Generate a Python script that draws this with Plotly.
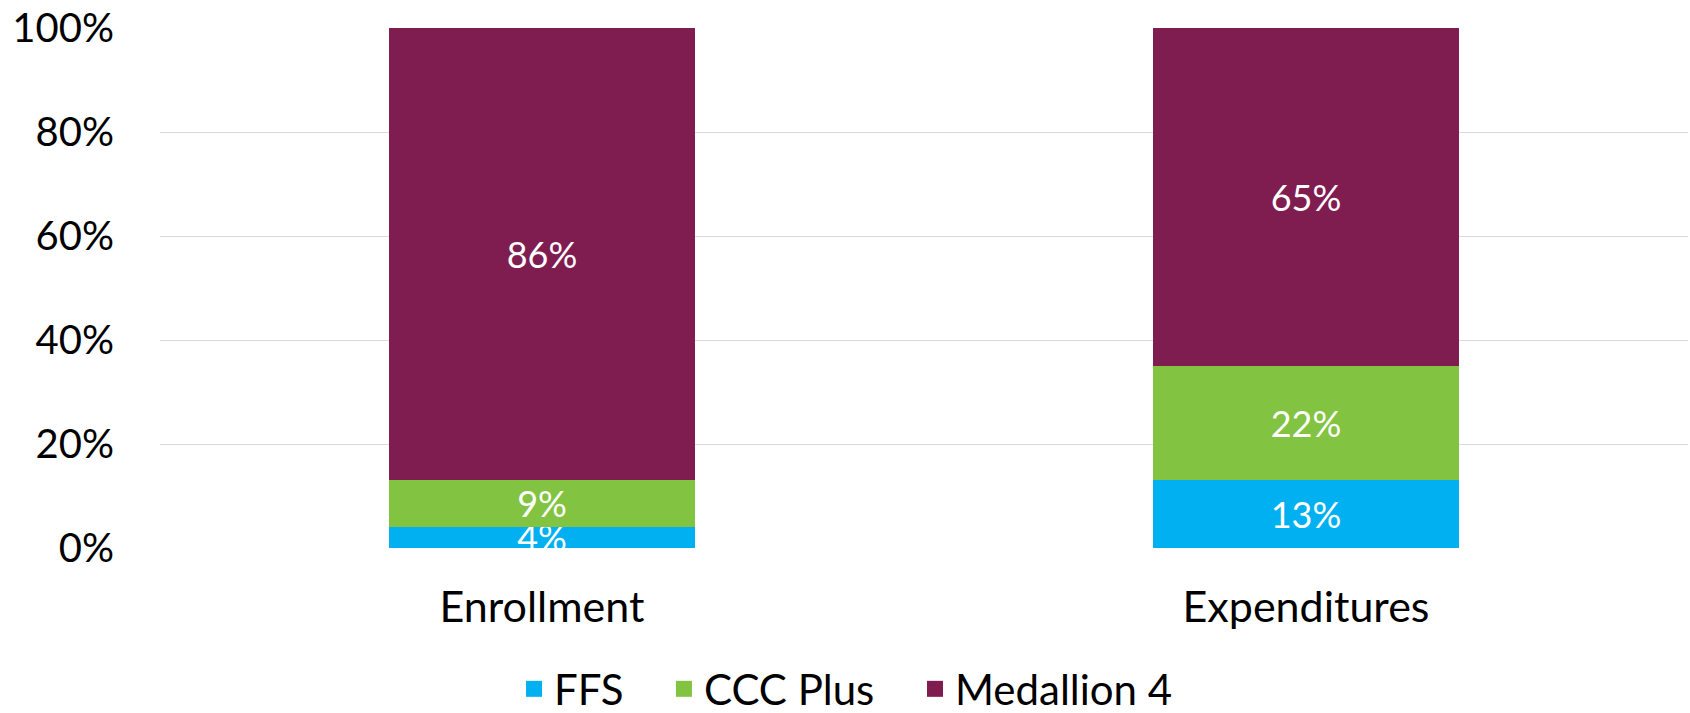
import plotly.graph_objects as go

categories = ["Enrollment", "Expenditures"]
series_names = ["FFS", "CCC Plus", "Medallion 4"]
ffs = [4, 13]
ccc_plus = [9, 22]
medallion4 = [86, 65]
y_ticks = [0, 20, 40, 60, 80, 100]
y_tick_labels = ["0%", "20%", "40%", "60%", "80%", "100%"]

colors = ["#00B0F0", "#82C341", "#7F1C50"]
FONT = "Lato, Open Sans, sans-serif"

# legend placement (paper x of each legend's left edge)
legend_ids = ["legend", "legend2", "legend3"]
legend_x = [0.2317, 0.3298, 0.4941]

fig = go.Figure()
for name, vals, col, lid in zip(series_names, [ffs, ccc_plus, medallion4], colors, legend_ids):
    fig.add_trace(go.Bar(
        x=categories, y=vals, name=name,
        marker=dict(color=col, line=dict(width=0)),
        text=[f"{v}%" for v in vals],
        textposition="inside", insidetextanchor="middle",
        constraintext="none",
        textfont=dict(color="white", size=36, family=FONT),
        cliponaxis=True,
        showlegend=False,
        hoverinfo="skip",
    ))
    fig.add_trace(go.Scatter(
        x=[None], y=[None], mode="markers", name=name,
        marker=dict(symbol="square", size=27, color=col),
        showlegend=True, legend=lid,
    ))

legend_common = dict(
    orientation="h", xanchor="left", y=-0.3366, yanchor="bottom",
    font=dict(size=42, family=FONT, color="black"),
    itemsizing="trace", bgcolor="rgba(0,0,0,0)", borderwidth=0,
)
layout_legends = {lid: dict(x=lx, **legend_common) for lid, lx in zip(legend_ids, legend_x)}

fig.update_layout(
    barmode="stack",
    barnorm="percent",
    bargap=0.6,
    width=1690, height=713,
    margin=dict(l=160, r=2, t=28, b=165, autoexpand=False),
    paper_bgcolor="white", plot_bgcolor="white",
    font=dict(family=FONT, color="black"),
    xaxis=dict(
        showgrid=False, showline=False, ticks="",
        tickfont=dict(size=43, family=FONT, color="black"),
        ticklabelstandoff=30,
    ),
    yaxis=dict(
        range=[0, 100], tickvals=y_ticks, ticktext=y_tick_labels,
        showgrid=True, gridcolor="#d9d9d9", gridwidth=1.3,
        zeroline=False, showline=False, ticks="",
        tickfont=dict(size=40, family=FONT, color="black"),
        ticklabelstandoff=45,
    ),
    **layout_legends,
)

fig.write_html(
    "out.html",
    config={"displayModeBar": False},
    post_script="document.body.style.margin='0';document.body.style.overflow='hidden';",
)
